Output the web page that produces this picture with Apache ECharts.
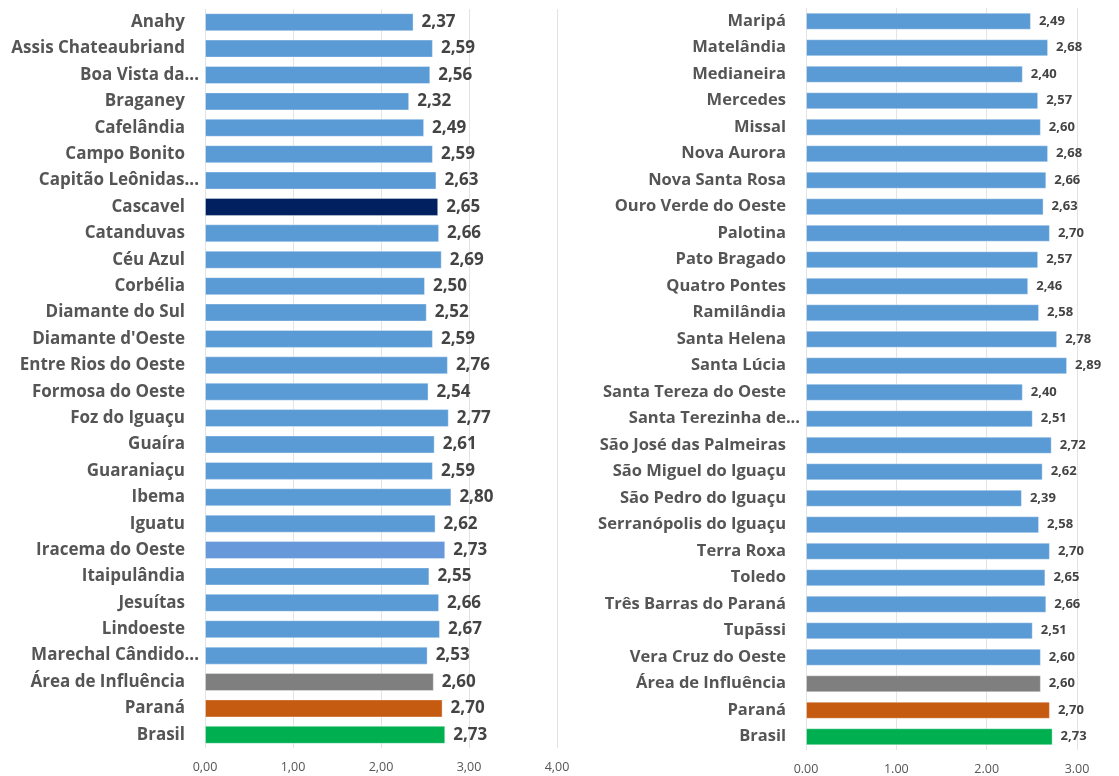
<!DOCTYPE html>
<html>
<head>
<meta charset="utf-8">
<script src="https://cdn.jsdelivr.net/npm/echarts@6/dist/echarts.min.js"></script>
<style>
  html, body { margin: 0; padding: 0; background: #ffffff; }
  #chart { width: 1119px; height: 776px; }
</style>
</head>
<body>
<div id="chart"></div>
<script>
// Municipalities, first column
const leftCategories = [
  'Anahy', 'Assis Chateaubriand', 'Boa Vista da...', 'Braganey', 'Cafelândia',
  'Campo Bonito', 'Capitão Leônidas...', 'Cascavel', 'Catanduvas', 'Céu Azul',
  'Corbélia', 'Diamante do Sul', "Diamante d'Oeste", 'Entre Rios do Oeste',
  'Formosa do Oeste', 'Foz do Iguaçu', 'Guaíra', 'Guaraniaçu', 'Ibema', 'Iguatu',
  'Iracema do Oeste', 'Itaipulândia', 'Jesuítas', 'Lindoeste', 'Marechal Cândido...',
  'Área de Influência', 'Paraná', 'Brasil'
];
const leftValues = [
  2.37, 2.59, 2.56, 2.32, 2.49, 2.59, 2.63, 2.65, 2.66, 2.69,
  2.50, 2.52, 2.59, 2.76, 2.54, 2.77, 2.61, 2.59, 2.80, 2.62,
  2.73, 2.55, 2.66, 2.67, 2.53, 2.60, 2.70, 2.73
];

// Municipalities, second column
const rightCategories = [
  'Maripá', 'Matelândia', 'Medianeira', 'Mercedes', 'Missal', 'Nova Aurora',
  'Nova Santa Rosa', 'Ouro Verde do Oeste', 'Palotina', 'Pato Bragado',
  'Quatro Pontes', 'Ramilândia', 'Santa Helena', 'Santa Lúcia',
  'Santa Tereza do Oeste', 'Santa Terezinha de...', 'São José das Palmeiras',
  'São Miguel do Iguaçu', 'São Pedro do Iguaçu', 'Serranópolis do Iguaçu',
  'Terra Roxa', 'Toledo', 'Três Barras do Paraná', 'Tupãssi', 'Vera Cruz do Oeste',
  'Área de Influência', 'Paraná', 'Brasil'
];
const rightValues = [
  2.49, 2.68, 2.40, 2.57, 2.60, 2.68, 2.66, 2.63, 2.70, 2.57,
  2.46, 2.58, 2.78, 2.89, 2.40, 2.51, 2.72, 2.62, 2.39, 2.58,
  2.70, 2.65, 2.66, 2.51, 2.60, 2.60, 2.70, 2.73
];

// Axis tick values
const leftTicks = [0, 1, 2, 3, 4];
const rightTicks = [0, 1, 2, 3];

// Bar colours
const BLUE = '#5B9BD5';
const highlight = {
  'Cascavel': '#002060',
  'Iracema do Oeste': '#6798DA',
  'Área de Influência': '#7F7F7F',
  'Paraná': '#C55A11',
  'Brasil': '#00B050'
};

const TEXT = '#555555';
const FONT = '"Open Sans", "DejaVu Sans", sans-serif';

function barData(cats, vals) {
  return vals.map((v, i) => ({
    value: v,
    itemStyle: { color: highlight[cats[i]] || BLUE }
  }));
}

function catLabel(name) {
  // names cut with an ellipsis sit closer to the bars
  return name.endsWith('...') ? name : name + '{s|}';
}

function fmt(v, sep) {
  return v.toFixed(2).replace('.', sep);
}

const chart = echarts.init(document.getElementById('chart'), null, { renderer: 'canvas' });

const option = {
  backgroundColor: '#ffffff',
  animation: false,
  grid: [
    { left: 205, width: 352, top: 9, height: 739 },
    { left: 806, width: 271, top: 8, height: 743 }
  ],
  xAxis: [
    {
      gridIndex: 0, type: 'value', min: leftTicks[0], max: leftTicks[leftTicks.length - 1], interval: 1,
      axisLine: { show: false }, axisTick: { show: false },
      splitLine: { show: true, lineStyle: { color: '#E3E3E3', width: 1 } },
      axisLabel: { color: TEXT, fontFamily: FONT, fontSize: 12.5, margin: 13,
        formatter: v => fmt(v, ',') }
    },
    {
      gridIndex: 1, type: 'value', min: rightTicks[0], max: rightTicks[rightTicks.length - 1], interval: 1,
      axisLine: { show: false }, axisTick: { show: false },
      splitLine: { show: true, lineStyle: { color: '#E3E3E3', width: 1 } },
      axisLabel: { color: TEXT, fontFamily: FONT, fontSize: 12.5, margin: 13,
        formatter: v => fmt(v, '.') }
    }
  ],
  yAxis: [
    {
      gridIndex: 0, type: 'category', data: leftCategories, inverse: true,
      axisLine: { show: false }, axisTick: { show: false },
      axisLabel: { color: TEXT, fontFamily: FONT, fontWeight: 'bold', fontSize: 17, margin: 6,
        interval: 0, formatter: catLabel, rich: { s: { width: 14 } } }
    },
    {
      gridIndex: 1, type: 'category', data: rightCategories, inverse: true,
      axisLine: { show: false }, axisTick: { show: false },
      axisLabel: { color: TEXT, fontFamily: FONT, fontWeight: 'bold', fontSize: 16.5, margin: 6,
        interval: 0, formatter: catLabel, rich: { s: { width: 14 } } }
    }
  ],
  series: [
    {
      type: 'bar', xAxisIndex: 0, yAxisIndex: 0, barWidth: 18,
      data: barData(leftCategories, leftValues),
      itemStyle: { borderColor: 'rgba(255,255,255,0.35)', borderWidth: 1 },
      label: { show: true, position: 'right', distance: 8, color: '#444444',
        fontFamily: FONT, fontWeight: 'bold', fontSize: 17,
        formatter: p => fmt(p.value, ',') }
    },
    {
      type: 'bar', xAxisIndex: 1, yAxisIndex: 1, barWidth: 17,
      data: barData(rightCategories, rightValues),
      itemStyle: { borderColor: 'rgba(255,255,255,0.35)', borderWidth: 1 },
      label: { show: true, position: 'right', distance: 8, color: '#444444',
        fontFamily: FONT, fontWeight: 'bold', fontSize: 13,
        formatter: p => fmt(p.value, ',') }
    }
  ]
};

chart.setOption(option);
</script>
</body>
</html>
